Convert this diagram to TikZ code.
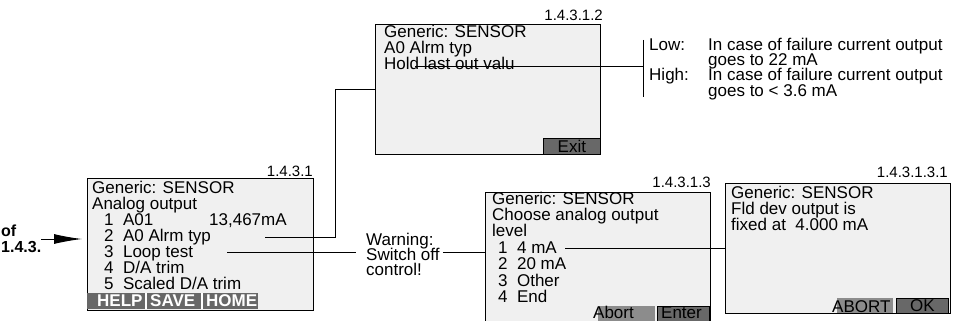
\documentclass[tikz,border=0pt]{standalone}
\usepackage{fontspec}
\setmainfont{Liberation Sans}
\usetikzlibrary{arrows.meta}
\definecolor{lcdfill}{HTML}{F0F0F0}
\definecolor{keydark}{HTML}{686868}
\definecolor{keylight}{HTML}{8C8C8C}
\begin{document}
\begin{tikzpicture}[x=1pt, y=-1pt,
    every node/.style={inner sep=0pt, anchor=base west, font=\fontsize{17}{16}\selectfont},
    screen/.style={draw, line width=1.2pt, fill=lcdfill, anchor=north west, minimum width=225pt, minimum height=130pt},
    menuid/.style={anchor=base east, font=\fontsize{15}{15}\selectfont},
    keybar/.style={fill=keydark, anchor=north west, minimum height=16pt},
    keyflat/.style={fill=keylight, anchor=north west, minimum height=16pt},
    keybtn/.style={draw, line width=0.8pt, fill=keydark, anchor=north west, minimum height=16pt},
    keytxt/.style={text=white, font=\bfseries\fontsize{17}{16}\selectfont},
    link/.style={line width=1pt},
    pointer/.style={line width=1pt, -{Latex[length=28pt,width=10pt]}}]
    \useasboundingbox (0,0) rectangle (953,321);
    \node[screen, minimum width=226pt, minimum height=132pt] (scrA) at (87,178) {};
    \node[menuid] (idA) at (313,176) {1.4.3.1};
    \node (aHead) at (92,193) {Generic: SENSOR};
    \node (aTitle) at (92,209) {Analog output};
    \node (aItem1) at (104,225) {1~~A01};
    \node (aValue) at (209,225) {13,467mA};
    \node (aItem2) at (104,241) {2~~A0 Alrm typ};
    \node (aItem3) at (104,257) {3~~Loop test};
    \node (aItem4) at (104,273) {4~~D/A trim};
    \node (aItem5) at (104,289) {5~~Scaled D/A trim};
    \node[keybar, minimum width=171pt] (aKeys) at (87,293) {};
    \node[keytxt] (aHelp) at (97,306) {HELP};
    \node[keytxt] (aSave) at (150,306) {SAVE};
    \node[keytxt] (aHome) at (206,306) {HOME};
    \draw[white, line width=1.5pt] (146,293) -- (146,309);
    \draw[white, line width=1.5pt] (202,293) -- (202,309);
    \node[align=left, anchor=west, font=\bfseries\fontsize{16}{16}\selectfont] (entryTxt) at (1,239) {of\\1.4.3.};
    \node[screen] (scrB) at (375,24) {};
    \node[menuid] (idB) at (603,21) {1.4.3.1.2};
    \node (bHead) at (384,38) {Generic: SENSOR};
    \node (bTitle) at (384,54) {A0 Alrm typ};
    \node (bHold) at (384,70) {Hold last out valu};
    \node[keybtn, minimum width=57pt] (bExit) at (543,138) {Exit};
    \node (lowKey) at (649,51) {Low:};
    \node (lowTxt) at (708,51) {In case of failure current output};
    \node (lowTxt2) at (708,66) {goes to 22 mA};
    \node (highKey) at (649,81) {High:};
    \node (highTxt) at (708,81) {In case of failure current output};
    \node (highTxt2) at (708,96) {goes to < 3.6 mA};
    \node[align=left, anchor=north west] (warn) at (366,233) {Warning:\\[-1pt]Switch off\\[-1pt]control!};
    \node[screen, minimum height=132pt] (scrC) at (485,192) {};
    \node[menuid] (idC) at (711,187) {1.4.3.1.3};
    \node (cHead) at (492,204) {Generic: SENSOR};
    \node (cTitle) at (492,220) {Choose analog output};
    \node (cTitle2) at (492,236) {level};
    \node (cItem1) at (498,253) {1~~4 mA};
    \node (cItem2) at (498,269) {2~~20 mA};
    \node (cItem3) at (498,286) {3~~Other};
    \node (cItem4) at (498,302) {4~~End};
    \node[keyflat, minimum width=57pt] (cAbortBar) at (598,306) {};
    \node (cAbort) at (593,318) {Abort};
    \node[keybtn, minimum width=52pt] (cEnter) at (657,306) {};
    \node (cEnterTxt) at (661,318) {Enter};
    \node[screen] (scrD) at (725,183) {};
    \node[menuid] (idD) at (948,177) {1.4.3.1.3.1};
    \node (dHead) at (731,198) {Generic: SENSOR};
    \node (dLine2) at (731,214) {Fld dev output is};
    \node (dLine3) at (731,230) {fixed at~~4.000 mA};
    \node[keyflat, minimum width=56pt, minimum height=15pt] (dAbortBar) at (837,298) {};
    \node (dAbort) at (832,312) {ABORT};
    \node[keybtn, minimum width=52pt, minimum height=15pt] (dOk) at (896,298) {OK};
    \draw[pointer, shorten >=5pt] (entryTxt.east) -- (entryTxt.east -| scrA.west);
    \coordinate (alrmOut) at (265,237);
    \draw[link] (alrmOut) -| ([xshift=-40pt]scrB.west) -- (scrB.west);
    \coordinate (loopOut) at (227,252);
    \draw[link, shorten >=10pt] (loopOut) -- (loopOut -| warn.west);
    \draw[link, shorten <=3pt] (warn.east |- loopOut) -- (loopOut -| scrC.west);
    \coordinate (holdOut) at (415,67);
    \coordinate (altFork) at (643,67);
    \draw[link] (holdOut) -- (altFork);
    \draw[link] (643,40) -- (643,97);
    \coordinate (fourOut) at (565,248);
    \draw[link] (fourOut) -- (fourOut -| scrD.west);
\end{tikzpicture}
\end{document}
